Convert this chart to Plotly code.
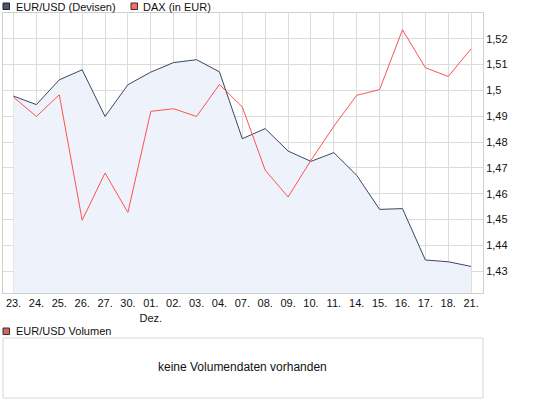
import plotly.graph_objects as go

W, H = 545, 407

days = ["23.", "24.", "25.", "26.", "27.", "30.", "01.", "02.", "03.", "04.", "07.",
        "08.", "09.", "10.", "11.", "14.", "15.", "16.", "17.", "18.", "21."]
day_labels = [d if d != "01." else "01.<br>Dez." for d in days]

eurusd = [1.4978, 1.4945, 1.5041, 1.5080, 1.4899, 1.5022, 1.5071, 1.5108, 1.5119, 1.5072,
          1.4813, 1.4852, 1.4765, 1.4725, 1.4759, 1.4671, 1.4539, 1.4542, 1.4343, 1.4336, 1.4318]
dax = [1.4974, 1.4899, 1.4983, 1.4497, 1.4680, 1.4527, 1.4919, 1.4929, 1.4899, 1.5023,
       1.4936, 1.4691, 1.4587, 1.4729, 1.4861, 1.4981, 1.5003, 1.5235, 1.5088, 1.5054, 1.5161]

y_ticks = [1.43, 1.44, 1.45, 1.46, 1.47, 1.48, 1.49, 1.50, 1.51, 1.52]
y_ticktext = ["1,43", "1,44", "1,45", "1,46", "1,47", "1,48", "1,49", "1,5", "1,51", "1,52"]


def px(x):
    return x / W


def py(y):
    return 1 - y / H


xs = list(range(len(days)))

fig = go.Figure()
fig.add_trace(go.Scatter(
    x=xs, y=eurusd, mode="lines", fill="tozeroy",
    fillcolor="#eef2fa", line=dict(color="#3d4663", width=1),
    name="EUR/USD (Devisen)", hoverinfo="skip"))
fig.add_trace(go.Scatter(
    x=xs, y=dax, mode="lines",
    line=dict(color="#ff5252", width=1),
    name="DAX (in EUR)", hoverinfo="skip"))

grid = "#dcdcdc"
fig.update_layout(
    width=W, height=H,
    margin=dict(l=0, r=0, t=0, b=0),
    paper_bgcolor="white", plot_bgcolor="white",
    showlegend=False,
    font=dict(family="Liberation Sans, Arial, sans-serif", size=11, color="#111"),
    xaxis=dict(
        domain=[px(3), px(483)],
        range=[-0.46, 20.52],
        tickvals=xs, ticktext=day_labels,
        showgrid=True, gridcolor=grid, gridwidth=1,
        showline=True, linecolor="#cfcfcf", mirror=True,
        zeroline=False, ticks="", tickfont=dict(size=11),
    ),
    yaxis=dict(
        domain=[py(293), py(13)],
        range=[1.4215, 1.53],
        side="right",
        tickvals=y_ticks, ticktext=y_ticktext,
        showgrid=True, gridcolor=grid, gridwidth=1,
        showline=True, linecolor="#cfcfcf", mirror=True,
        zeroline=False, ticks="", tickfont=dict(size=11),
    ),
)

shapes = [
    # legend squares
    dict(type="rect", xref="paper", yref="paper", x0=px(3), x1=px(9.5), y0=py(9.5), y1=py(3),
         fillcolor="#4c5674", line=dict(color="#222", width=1)),
    dict(type="rect", xref="paper", yref="paper", x0=px(131), x1=px(137.5), y0=py(9.5), y1=py(3),
         fillcolor="#ff6b6b", line=dict(color="#333", width=1)),
    dict(type="rect", xref="paper", yref="paper", x0=px(3), x1=px(9.5), y0=py(334.5), y1=py(328),
         fillcolor="#d9625b", line=dict(color="#333", width=1)),
    # volume panel box
    dict(type="rect", xref="paper", yref="paper", x0=px(3), x1=px(483), y0=py(398), y1=py(338),
         fillcolor="white", line=dict(color="#d6d6d6", width=1)),
]

annotations = [
    dict(text="EUR/USD (Devisen)", xref="paper", yref="paper", x=px(14), y=py(6.5),
         xanchor="left", yanchor="middle", showarrow=False, font=dict(size=11)),
    dict(text="DAX (in EUR)", xref="paper", yref="paper", x=px(141), y=py(6.5),
         xanchor="left", yanchor="middle", showarrow=False, font=dict(size=11)),
    dict(text="EUR/USD Volumen", xref="paper", yref="paper", x=px(14), y=py(331),
         xanchor="left", yanchor="middle", showarrow=False, font=dict(size=11)),
    dict(text="keine Volumendaten vorhanden", xref="paper", yref="paper", x=px(242), y=py(367),
         xanchor="center", yanchor="middle", showarrow=False, font=dict(size=12)),
]

fig.update_layout(shapes=shapes, annotations=annotations)

fig.write_html("out.html", config=dict(displayModeBar=False),
               post_script="document.body.style.margin='0';document.body.style.overflow='hidden';")
